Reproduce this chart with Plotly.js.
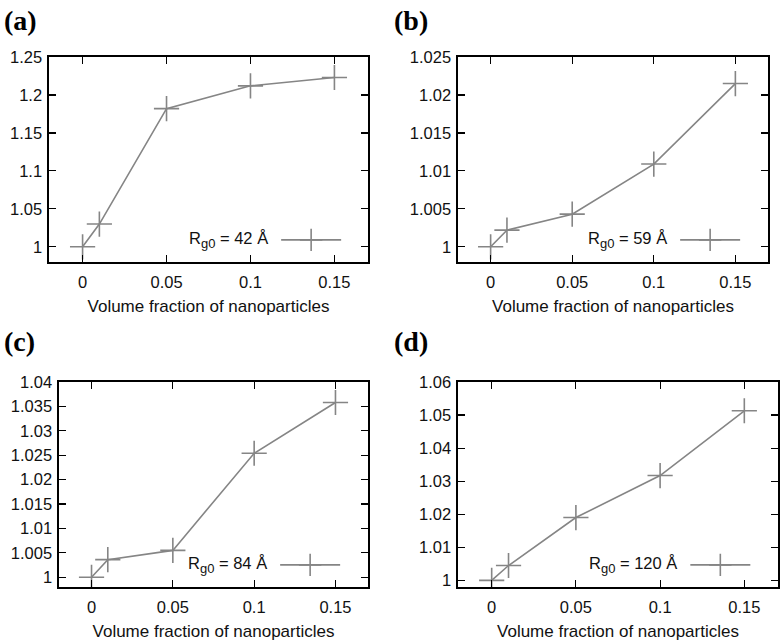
<!DOCTYPE html>
<html>
<head>
<meta charset="utf-8">
<script src="https://cdn.plot.ly/plotly-3.0.1.min.js"></script>
<style>html,body{margin:0;padding:0;background:#fff;}#chart{width:782px;height:642px;}</style>
</head>
<body>
<div id="chart"></div>
<script>
// ---- data ----
const volumeFraction = [0, 0.01, 0.05, 0.1, 0.15];
const rgA = [1.000, 1.030, 1.182, 1.212, 1.223];
const rgB = [1.0000, 1.0022, 1.0043, 1.0109, 1.0215];
const rgC = [1.0000, 1.0036, 1.0055, 1.0254, 1.0358];
const rgD = [1.0000, 1.0045, 1.0190, 1.0317, 1.0513];
const legendA = 'R<sub><span style="font-size:13px">g0</span></sub> = 42 Å';
const legendB = 'R<sub><span style="font-size:13px">g0</span></sub> = 59 Å';
const legendC = 'R<sub><span style="font-size:13px">g0</span></sub> = 84 Å';
const legendD = 'R<sub><span style="font-size:13px">g0</span></sub> = 120 Å';
const panelLabels = ['(a)', '(b)', '(c)', '(d)'];
const xTickVals = [0, 0.05, 0.1, 0.15];
const xTickText = ['0', '0.05', '0.1', '0.15'];
const yTickValsA = [1, 1.05, 1.1, 1.15, 1.2, 1.25];
const yTickTextA = ['1', '1.05', '1.1', '1.15', '1.2', '1.25'];
const yTickValsB = [1, 1.005, 1.01, 1.015, 1.02, 1.025];
const yTickTextB = ['1', '1.005', '1.01', '1.015', '1.02', '1.025'];
const yTickValsC = [1, 1.005, 1.01, 1.015, 1.02, 1.025, 1.03, 1.035, 1.04];
const yTickTextC = ['1', '1.005', '1.01', '1.015', '1.02', '1.025', '1.03', '1.035', '1.04'];
const yTickValsD = [1, 1.01, 1.02, 1.03, 1.04, 1.05, 1.06];
const yTickTextD = ['1', '1.01', '1.02', '1.03', '1.04', '1.05', '1.06'];
const xTitle = 'Volume fraction of nanoparticles';

// ---- style ----
const grey = '#858585';
const FONT = 'Liberation Sans, Arial, sans-serif';
const W = 782, H = 642;

function trace(y, xa, ya, lg) {
  return {
    x: volumeFraction, y: y, xaxis: xa, yaxis: ya, legend: lg,
    type: 'scatter', mode: 'lines+markers', name: '',
    line: {color: grey, width: 1.6},
    marker: {symbol: 'cross-thin-open', size: 18, color: grey, line: {color: grey, width: 1.6}},
    showlegend: true
  };
}

const data = [
  trace(rgA, 'x', 'y', 'legend'),
  trace(rgB, 'x2', 'y2', 'legend2'),
  trace(rgC, 'x3', 'y3', 'legend3'),
  trace(rgD, 'x4', 'y4', 'legend4')
];

function xax(px0, px1, anchor) {
  return {
    domain: [px0 / W, px1 / W], anchor: anchor, range: [-0.02, 0.17],
    tickvals: xTickVals, ticktext: xTickText,
    ticks: 'inside', ticklen: 7, tickwidth: 1.2, tickcolor: '#000',
    showline: true, linecolor: '#000', linewidth: 1.6, mirror: 'ticks',
    showgrid: false, zeroline: false, ticklabelstandoff: 5,
    tickfont: {family: FONT, size: 16.5, color: '#111'},
    title: {text: xTitle, font: {family: FONT, size: 17, color: '#111'}, standoff: 9}
  };
}
function yax(px0, px1, range, tv, tt, anchor) {
  return {
    domain: [1 - px1 / H, 1 - px0 / H], anchor: anchor, range: range,
    tickvals: tv, ticktext: tt,
    ticks: 'inside', ticklen: 7, tickwidth: 1.2, tickcolor: '#000',
    showline: true, linecolor: '#000', linewidth: 1.6, mirror: 'ticks',
    showgrid: false, zeroline: false, ticklabelstandoff: 2,
    tickfont: {family: FONT, size: 16.5, color: '#111'}
  };
}
function leg(title, xr, yc) {
  return {
    x: xr / W, y: 1 - yc / H, xanchor: 'right', yanchor: 'middle',
    bgcolor: 'rgba(0,0,0,0)', borderwidth: 0, itemwidth: 60,
    font: {family: FONT, size: 16, color: '#111'},
    title: {text: title, side: 'left', font: {family: FONT, size: 16.5, color: '#111'}}
  };
}

const layout = {
  width: W, height: H,
  margin: {l: 0, r: 0, t: 0, b: 0},
  paper_bgcolor: '#fff', plot_bgcolor: '#fff',
  font: {family: FONT, color: '#111'},
  xaxis: xax(49, 368, 'y'),
  yaxis: yax(57, 262, [0.98, 1.25], yTickValsA, yTickTextA, 'x'),
  xaxis2: xax(458, 768, 'y2'),
  yaxis2: yax(57, 262, [0.998, 1.025], yTickValsB, yTickTextB, 'x2'),
  xaxis3: xax(59, 368, 'y3'),
  yaxis3: yax(382, 587, [0.998, 1.04], yTickValsC, yTickTextC, 'x3'),
  xaxis4: xax(458, 778, 'y4'),
  yaxis4: yax(382, 587, [0.998, 1.06], yTickValsD, yTickTextD, 'x4'),
  legend: leg(legendA, 352, 240),
  legend2: leg(legendB, 751, 240),
  legend3: leg(legendC, 351, 565),
  legend4: leg(legendD, 761, 565),
  annotations: [
    [2, 20], [392, 20], [2, 342], [392, 342]
  ].map((p, i) => ({
    text: '<b>' + panelLabels[i] + '</b>', xref: 'paper', yref: 'paper',
    x: p[0] / W, y: 1 - p[1] / H, xanchor: 'left', yanchor: 'middle', showarrow: false,
    font: {family: 'Liberation Serif, Times New Roman, serif', size: 28, color: '#000'}
  }))
};

Plotly.newPlot('chart', data, layout, {displayModeBar: false, staticPlot: true});
</script>
</body>
</html>
